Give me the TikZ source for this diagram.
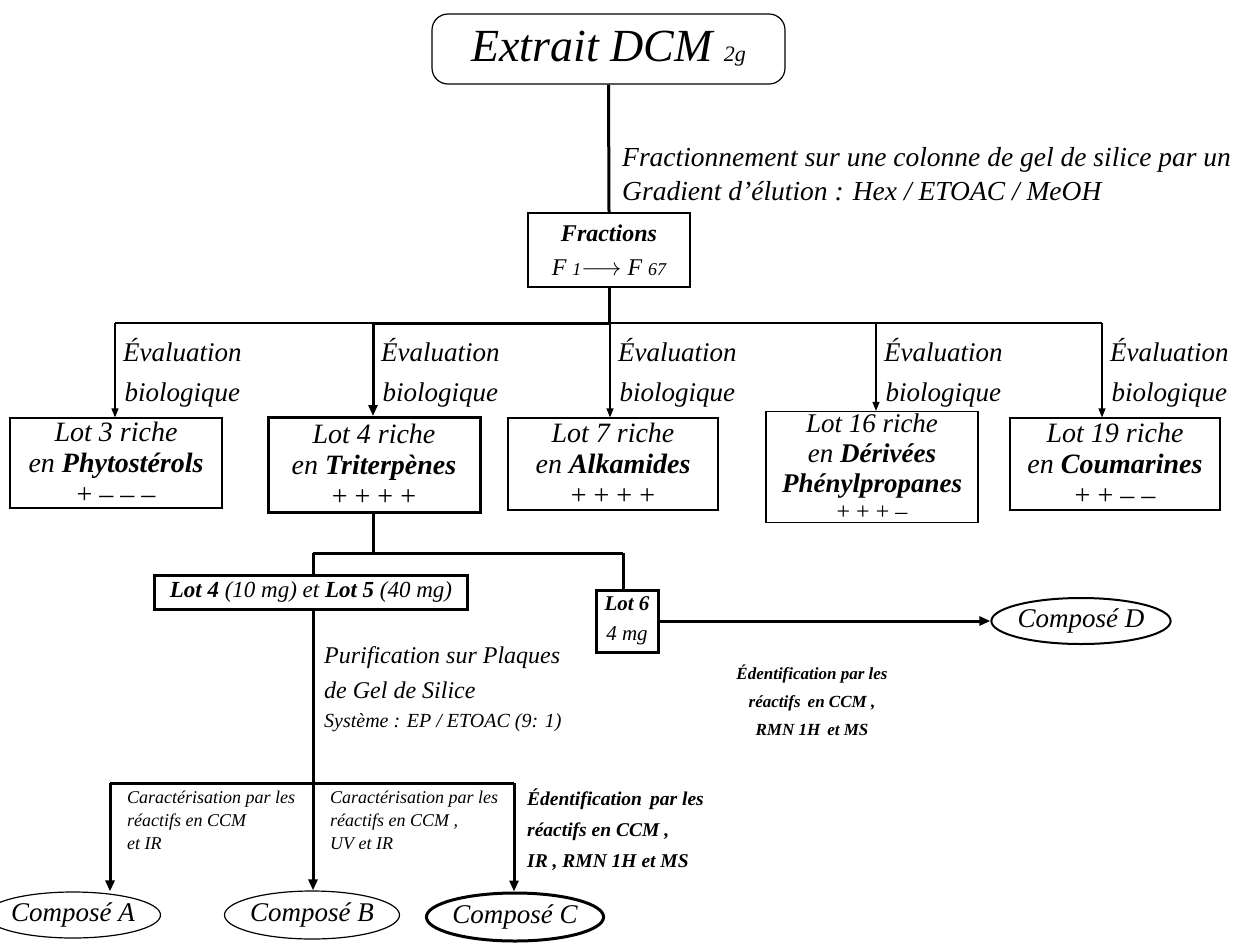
\documentclass[tikz,border=0pt]{standalone}
\usepackage{fontspec}
\setmainfont{Liberation Serif}
\usetikzlibrary{arrows.meta,shapes.geometric}
\newcommand\fsz[2]{\fontsize{#1}{#2}\selectfont}
\tikzset{
  light/.style={line width=1.2pt},
  heavy/.style={line width=3pt},
  tipl/.style={-{Triangle[length=9pt,width=7pt]}},
  tiph/.style={-{Triangle[length=11pt,width=9pt]}},
  lotbox/.style={draw, light, align=center, inner sep=0pt,
    font=\fsz{28}{31}\itshape},
  lbl/.style={align=left, inner sep=0pt, font=\fsz{24}{40}\itshape},
  evlbl/.style={align=center, inner sep=0pt, anchor=north west,
    font=\fsz{27}{40}\itshape},
  cmp/.style={ellipse, draw, inner sep=0pt, font=\fsz{27}{30}\itshape},
}
\begin{document}
\begin{tikzpicture}[x=1pt,y=-1pt]
\useasboundingbox (0,0) rectangle (1240,946);

% extract and column fractions
\node[draw, light, rounded corners=16pt, minimum width=353pt, minimum height=70pt,
      font=\fsz{46}{48}\itshape] (ext) at (608.5,49)
      {Extrait DCM {\fsz{22}{22}2g}};
\node[draw, line width=2.5pt, minimum width=162pt, minimum height=74pt,
      align=center, inner sep=0pt, font=\fsz{24}{34}\itshape] (frac) at (609,250)
      {\textbf{Fractions}\\F {\fsz{18}{18}1}$\longrightarrow$ F {\fsz{18}{18}67}};
\draw[heavy] (ext.south) -- (frac.north);
\node[lbl, anchor=west, font=\fsz{27.5}{34}\itshape] (col) at (622,174)
  {Fractionnement sur une colonne de gel de silice par un\\
   Gradient d'élution : Hex / ETOAC / MeOH};

% five lots
\node[lotbox, minimum width=212pt, minimum height=90pt] (l3) at (116,463)
  {Lot 3 riche\\en \textbf{Phytostérols}\\{\upshape + – – –}};
\node[lotbox, line width=3pt, minimum width=212pt, minimum height=95pt] (l4) at (374,465)
  {Lot 4 riche\\en \textbf{Triterpènes}\\{\upshape + + + +}};
\node[lotbox, minimum width=210pt, minimum height=92pt] (l7) at (613,464)
  {Lot 7 riche\\en \textbf{Alkamides}\\{\upshape + + + +}};
\node[lotbox, minimum width=212pt, minimum height=111pt, font=\fsz{27}{30}\itshape] (l16) at (872,467)
  {Lot 16 riche\\en \textbf{Dérivées}\\\textbf{Phénylpropanes}\\[-3pt]{\fsz{24}{24}\upshape + + + –}};
\node[lotbox, minimum width=210pt, minimum height=92pt] (l19) at (1115,464)
  {Lot 19 riche\\en \textbf{Coumarines}\\{\upshape + + – –}};

\coordinate (j1) at (609,323);
\coordinate (b3) at (115,323);
\coordinate (b4) at (373,323);
\coordinate (b7) at (610,323);
\coordinate (b16) at (876,323);
\coordinate (b19) at (1102,323);
\draw[heavy] (frac.south) -- (j1);
\draw[light] (b3) -- (b19);
\draw[heavy] (b4) -- (j1);
\draw[light, tipl] (b3) -- (b3 |- l3.north);
\draw[heavy, tiph] (b4) -- (b4 |- l4.north);
\draw[light, tipl] (b7) -- (b7 |- l7.north);
\draw[light, tipl] (b16) -- (b16 |- l16.north);
\draw[light, tipl] (b19) -- (b19 |- l19.north);
\foreach \b/\n in {b3/e3,b4/e4,b7/e7,b16/e16,b19/e19}
  \node[evlbl] (\n) at ([xshift=8pt,yshift=-15pt]\b) {Évaluation\\biologique};

% lots 4, 5 and 6
\node[draw, heavy, minimum width=313pt, minimum height=34pt, inner sep=0pt,
      font=\fsz{23}{24}\itshape] (l45) at (311,592)
      {\textbf{Lot 4} (10 mg) et \textbf{Lot 5} (40 mg)};
\node[draw, heavy, minimum width=62pt, minimum height=62pt, inner sep=0pt,
      align=center, font=\fsz{21}{30}\itshape] (l6) at (627,621)
      {\textbf{Lot 6}\\4 mg};
\coordinate (j2) at (373,553);
\coordinate (b45) at (313,553);
\coordinate (b6) at (623,553);
\draw[heavy] (l4.south -| j2) -- (j2);
\draw[heavy] (b45) -- (b6);
\draw[heavy] (b45) -- (b45 |- l45.north);
\draw[heavy] (b6) -- (b6 |- l6.north);

\node[cmp, line width=2pt, minimum width=160pt, minimum height=46pt] (cD) at (1081,621)
  {Composé D};
\draw[heavy, tiph] (l6.east) -- (cD.west);
\node[align=center, inner sep=0pt, font=\fsz{17}{28}\bfseries\itshape] (idD) at (812,700)
  {Édentification par les\\réactifs\, en CCM ,\\RMN 1H\, et MS};

% purification of lots 4 and 5
\node[lbl, anchor=north west, font=\fsz{24}{35}\itshape] (pur) at (324,646)
  {Purification sur Plaques\\de Gel de Silice\\[-6pt]{\fsz{20}{22}Système : EP / ETOAC (9: 1)}};
\coordinate (j3) at (313,783);
\coordinate (bA) at (110,783);
\coordinate (bC) at (514,783);
\draw[heavy] (l45.south -| j3) -- (j3);
\draw[heavy] (bA) -- (bC);

\node[cmp, light, minimum width=142pt, minimum height=46pt] (cA) at (73,915) {Composé A};
\node[cmp, light, minimum width=155pt, minimum height=48pt] (cB) at (312,915) {Composé B};
\node[cmp, line width=3pt, minimum width=160pt, minimum height=48pt] (cC) at (515,917) {Composé C};
\draw[heavy, tiph] (bA) -- (bA |- cA.north);
\draw[heavy, tiph] (j3) -- (j3 |- cB.north);
\draw[heavy, tiph] (bC) -- (bC |- cC.north);

\node[lbl, anchor=north west, font=\fsz{18}{23}\itshape] (carA) at (127,791)
  {Caractérisation par les\\réactifs en CCM\\et IR};
\node[lbl, anchor=north west, font=\fsz{18}{23}\itshape] (carB) at (330,791)
  {Caractérisation par les\\réactifs en CCM ,\\UV et IR};
\node[lbl, anchor=north west, font=\fsz{19.5}{31}\bfseries\itshape] (idC) at (527,789)
  {Édentification\, par les\\réactifs en CCM ,\\IR , RMN 1H et MS};
\end{tikzpicture}
\end{document}
